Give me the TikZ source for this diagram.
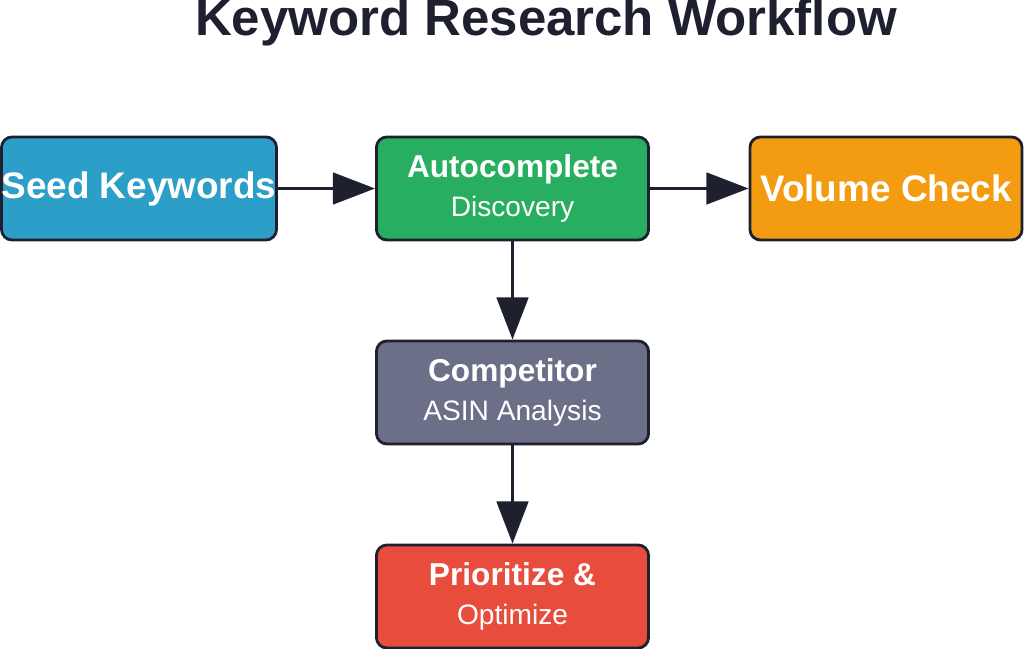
\documentclass[tikz,border=0pt]{standalone}
\usepackage{fontspec}
\setmainfont{Liberation Sans}
\usetikzlibrary{arrows.meta}
\definecolor{edge}{HTML}{1E2030}
\definecolor{cblue}{HTML}{2C9FC9}
\definecolor{cgreen}{HTML}{27AE60}
\definecolor{corange}{HTML}{F39C12}
\definecolor{cgray}{HTML}{6B6F88}
\definecolor{cred}{HTML}{E74C3C}
\begin{document}
\begin{tikzpicture}[x=0.01cm,y=-0.01cm,
  box/.style={draw=edge,line width=0.8pt,rounded corners=3pt,minimum width=2.72cm,minimum height=1.03cm,text=white,align=center,inner sep=0pt},
  big/.style={font=\bfseries\fontsize{10.5}{12}\selectfont},
  conn/.style={draw=edge,line width=0.85pt,-{Triangle[length=12pt,width=9pt]}}]
\useasboundingbox (0,0) rectangle (1024,649);
\node[font=\bfseries\fontsize{14.5}{16}\selectfont,text=edge] (title) at (546,22) {Keyword Research Workflow};
\node[box,fill=cblue,big] (seed) at (139,188.5) {Seed Keywords};
\node[box,fill=cgreen] (auto) at (512.5,188.5) {{\bfseries\fontsize{9}{11}\selectfont Autocomplete}\\[-1pt]{\fontsize{8}{10}\selectfont Discovery}};
\node[box,fill=corange,big] (vol) at (886,188.5) {Volume Check};
\node[box,fill=cgray] (comp) at (512.5,392.5) {{\bfseries\fontsize{9}{11}\selectfont Competitor}\\[-1pt]{\fontsize{8}{10}\selectfont ASIN Analysis}};
\node[box,fill=cred] (prio) at (512.5,596.5) {{\bfseries\fontsize{9}{11}\selectfont Prioritize \&}\\[-1pt]{\fontsize{8}{10}\selectfont Optimize}};
\draw[conn] (seed) -- (auto);
\draw[conn] (auto) -- (vol);
\draw[conn] (auto) -- (comp);
\draw[conn] (comp) -- (prio);
\end{tikzpicture}
\end{document}
